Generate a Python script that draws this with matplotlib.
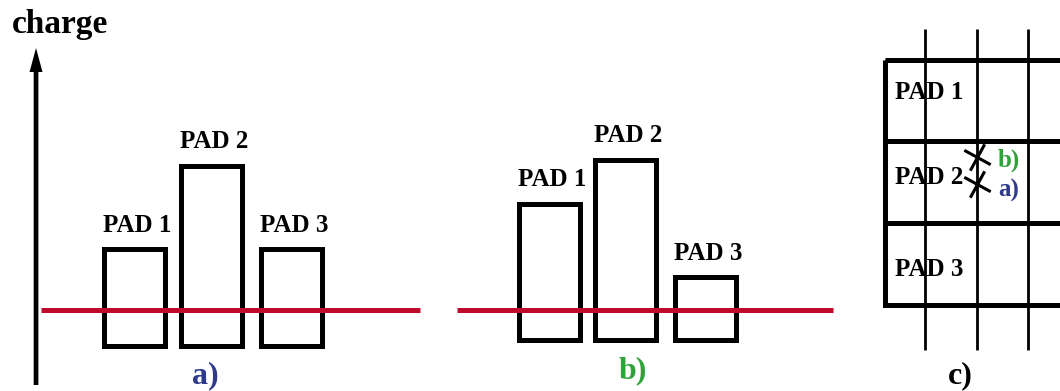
"""
Pad-response sketch: charge on three pads for two hit positions (a, b)
and the matching pad/strip layout (c).
"""
import matplotlib
matplotlib.use("Agg")
import matplotlib.pyplot as plt
from matplotlib.patches import Rectangle
from matplotlib.path import Path

plt.rcParams["font.family"] = ["Liberation Serif", "DejaVu Serif"]
plt.rcParams["font.weight"] = "bold"

pads = ["PAD 1", "PAD 2", "PAD 3"]
pad_x = [0, 0.975, 2]
charge_a = [97, 180, 97]
charge_b = [136, 180, 63]
threshold_a = 35.5
threshold_b = 29.5
threshold_span = (-1.19, 3.63)

# panel c: strips (vertical) and pad rows (horizontal)
strips = [1, 2, 3]
pad_rows = [0, 1, 2]
pad_label_y = [0.48, 1.52, 2.64]
hits = {"b)": 1.19, "a)": 1.52}
hit_strip = 2
hit_label_y = {"b)": 1.31, "a)": 1.67}

RED = "#C00A2B"
BLUE = "#2E3A8C"
GREEN = "#2FA33A"
LW_THICK = 3.6
LW_THIN = 2.0

W, H = 1060, 391
fig = plt.figure(figsize=(W / 100, H / 100), dpi=100)


def overlay_axes(x0, xu, y0, yu):
    """Transparent full-figure axes: x -> pixel x0 + xu*x, y -> pixel row y0 - yu*y."""
    ax = fig.add_axes([0, 0, 1, 1])
    ax.set_xlim(-x0 / xu, (W - x0) / xu)
    ax.set_ylim((y0 - H) / yu, y0 / yu)
    ax.axis("off")
    ax.patch.set_alpha(0)
    return ax


def draw_bars(ax, charges, threshold):
    bars = ax.bar(pad_x, charges, width=0.776, fill=False,
                  edgecolor="black", linewidth=LW_THICK)
    for b in bars:
        b.set_joinstyle("miter")
    ax.plot(threshold_span, [threshold] * 2, color=RED, lw=LW_THICK,
            solid_capstyle="butt", zorder=3)
    for x, name, q in zip(pad_x, pads, charges):
        ax.text(x + 0.03, q + 17, name, ha="center", va="baseline", fontsize=18)


# ---- panel a)
ax_a = overlay_axes(134.75, 78.6, 345.5, 1)
draw_bars(ax_a, charge_a, threshold_a)
ax_a.arrow(-1.256, -39.5, 0, 337, width=0.06, head_width=0.165, head_length=24,
           length_includes_head=True, color="black", lw=0)
ax_a.text(-1.562, 312.5, "charge", ha="left", va="baseline", fontsize=24)
ax_a.text(0.894, -37.5, "a)", ha="center", va="baseline", fontsize=23, color=BLUE)

# ---- panel b)
ax_b = overlay_axes(549.5, 78, 339.5, 1)
draw_bars(ax_b, charge_b, threshold_b)
ax_b.text(1.07, -38.5, "b)", ha="center", va="baseline", fontsize=23, color=GREEN)

# ---- panel c)
ax_c = overlay_axes(873.5, 51.5, 59.5, -81.9)
ax_c.vlines(strips, -0.37, 3.55, color="black", lw=LW_THIN)
for r, name, ly in zip(pad_rows, pads, pad_label_y):
    ax_c.add_patch(Rectangle((0.214, r), 6, 1, fill=False, edgecolor="black",
                             lw=LW_THICK, joinstyle="miter"))
    ax_c.text(0.417, ly, name, ha="left", va="baseline", fontsize=18)

cross = Path([(-11, 6), (11, -6), (-6, -11), (6, 11)],
             [Path.MOVETO, Path.LINETO, Path.MOVETO, Path.LINETO])
for lab, y in hits.items():
    ax_c.plot([hit_strip], [y], marker=cross, ms=19, mew=2.2, color="black",
              linestyle="none")
    ax_c.text(2.42, hit_label_y[lab], lab, ha="left", va="baseline", fontsize=18,
              color=GREEN if lab == "b)" else BLUE)
ax_c.text(1.68, 3.95, "c)", ha="center", va="baseline", fontsize=23)

fig.savefig("out.png", dpi=100)
